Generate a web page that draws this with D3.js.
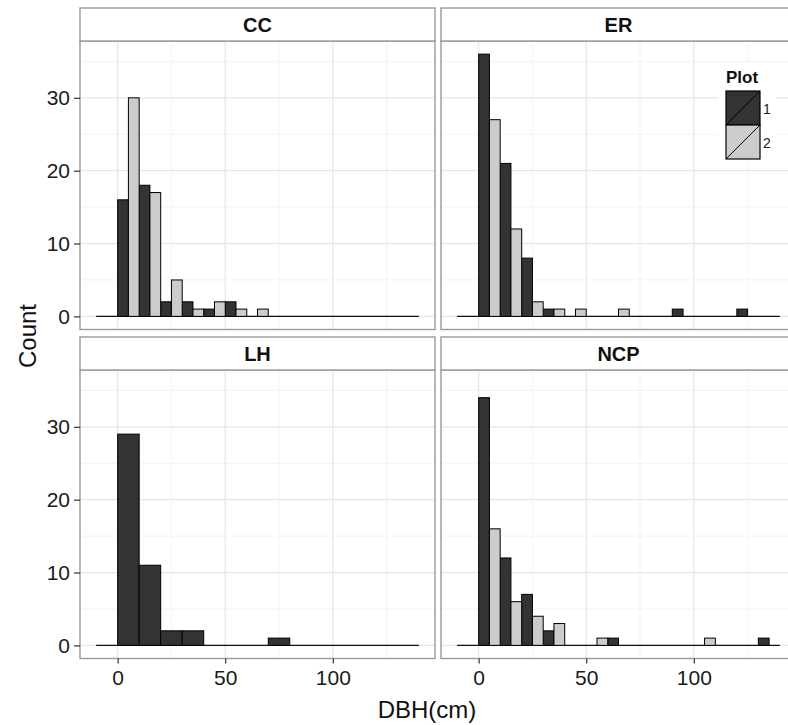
<!DOCTYPE html>
<html>
<head>
<meta charset="utf-8">
<script src="https://cdn.jsdelivr.net/npm/d3@7/dist/d3.min.js"></script>
<style>
  html, body { margin: 0; padding: 0; background: #fff; }
  svg { display: block; font-family: "Liberation Sans", Arial, sans-serif; }
</style>
</head>
<body>
<svg id="chart" width="788" height="725"></svg>
<script>
// ---- data ----
const facets = ["CC", "ER", "LH", "NCP"];
const binStarts = [-10, 0, 10, 20, 30, 40, 50, 60, 70, 80, 90, 100, 110, 120, 130];
const binWidth = 10;
const plots = ["1", "2"];
// counts per bin (aligned with binStarts), by facet and plot
const ccPlot1  = [0, 16, 18, 2, 2, 1, 2, 0, 0, 0, 0, 0, 0, 0, 0];
const ccPlot2  = [0, 30, 17, 5, 1, 2, 1, 1, 0, 0, 0, 0, 0, 0, 0];
const erPlot1  = [0, 36, 21, 8, 1, 0, 0, 0, 0, 0, 1, 0, 0, 1, 0];
const erPlot2  = [0, 27, 12, 2, 1, 1, 0, 1, 0, 0, 0, 0, 0, 0, 0];
const lhPlot1  = [0, 29, 11, 2, 2, 0, 0, 0, 1, 0, 0, 0, 0, 0, 0];
const lhPlot2  = null; // no plot 2 in LH
const ncpPlot1 = [0, 34, 12, 7, 2, 0, 0, 1, 0, 0, 0, 0, 0, 0, 1];
const ncpPlot2 = [0, 16, 6, 4, 3, 0, 1, 0, 0, 0, 0, 1, 0, 0, 0];
const xTicks = [0, 50, 100];
const xMinor = [25, 75, 125];
const yTicks = [0, 10, 20, 30];
const yMinor = [5, 15, 25, 35];
const xTitle = "DBH(cm)";
const yTitle = "Count";
const legendTitle = "Plot";

const seriesByFacet = {
  CC: [ccPlot1, ccPlot2],
  ER: [erPlot1, erPlot2],
  LH: [lhPlot1, lhPlot2],
  NCP: [ncpPlot1, ncpPlot2]
};
const fills = { "1": "#333333", "2": "#cccccc" };

// ---- layout ----
const svg = d3.select("#chart");
const colX = [80, 441];
const panelW = 355;
const rowStripTop = [8, 337];
const stripH = 33;
const panelH = 288.5;

const xMax = binStarts[binStarts.length - 1] + binWidth;
const xMin = binStarts[0];
const xPad = (xMax - xMin) * 0.05;
const yMaxData = d3.max(Object.values(seriesByFacet).flat().filter(Boolean).flat());
const yPad = yMaxData * 0.05;

facets.forEach((f, i) => {
  const col = i % 2, row = Math.floor(i / 2);
  const px = colX[col];
  const sy = rowStripTop[row];
  const py = sy + stripH;
  const x = d3.scaleLinear().domain([xMin - xPad, xMax + xPad]).range([px, px + panelW]);
  const y = d3.scaleLinear().domain([-yPad, yMaxData + yPad]).range([py + panelH, py]);

  const g = svg.append("g");
  g.append("rect").attr("x", px).attr("y", py).attr("width", panelW).attr("height", panelH).attr("fill", "#fff");
  // minor grid
  g.selectAll(".gxm").data(xMinor).enter().append("line")
    .attr("x1", d => x(d)).attr("x2", d => x(d)).attr("y1", py).attr("y2", py + panelH)
    .attr("stroke", "#f3f3f3").attr("stroke-width", 1);
  g.selectAll(".gym").data(yMinor).enter().append("line")
    .attr("y1", d => y(d)).attr("y2", d => y(d)).attr("x1", px).attr("x2", px + panelW)
    .attr("stroke", "#f3f3f3").attr("stroke-width", 1);
  // major grid
  g.selectAll(".gx").data(xTicks).enter().append("line")
    .attr("x1", d => x(d)).attr("x2", d => x(d)).attr("y1", py).attr("y2", py + panelH)
    .attr("stroke", "#e6e6e6").attr("stroke-width", 1.2);
  g.selectAll(".gy").data(yTicks).enter().append("line")
    .attr("y1", d => y(d)).attr("y2", d => y(d)).attr("x1", px).attr("x2", px + panelW)
    .attr("stroke", "#e6e6e6").attr("stroke-width", 1.2);

  // baseline (zero-height bars)
  g.append("line").attr("x1", x(xMin)).attr("x2", x(xMax)).attr("y1", y(0)).attr("y2", y(0))
    .attr("stroke", "#111").attr("stroke-width", 1.3);

  // bars
  const series = seriesByFacet[f];
  const present = series.map((s, k) => s ? plots[k] : null).filter(Boolean);
  const nGroups = present.length;
  series.forEach((s, k) => {
    if (!s) return;
    const slot = present.indexOf(plots[k]);
    const w = binWidth / nGroups;
    const data = binStarts.map((b, j) => ({ x0: b + slot * w, x1: b + (slot + 1) * w, c: s[j] })).filter(d => d.c > 0);
    g.selectAll(".bar" + k).data(data).enter().append("rect")
      .attr("x", d => x(d.x0)).attr("width", d => x(d.x1) - x(d.x0))
      .attr("y", d => y(d.c)).attr("height", d => y(0) - y(d.c))
      .attr("fill", fills[plots[k]]).attr("stroke", "#000").attr("stroke-width", 1);
  });

  // panel border
  g.append("rect").attr("x", px).attr("y", py).attr("width", panelW).attr("height", panelH)
    .attr("fill", "none").attr("stroke", "#9a9a9a").attr("stroke-width", 1.4);
  // strip
  g.append("rect").attr("x", px).attr("y", sy).attr("width", panelW).attr("height", stripH)
    .attr("fill", "#fff").attr("stroke", "#9a9a9a").attr("stroke-width", 1.4);
  g.append("text").attr("x", px + panelW / 2).attr("y", sy + stripH / 2 + 7)
    .attr("text-anchor", "middle").attr("font-size", 20).attr("font-weight", "bold")
    .attr("fill", "#111").text(f);

  if (col === 0) {
    const ya = g.append("g").attr("transform", `translate(${px},0)`)
      .call(d3.axisLeft(y).tickValues(yTicks).tickSize(6).tickPadding(4));
    ya.select(".domain").remove();
    ya.selectAll(".tick line").attr("stroke", "#333").attr("stroke-width", 1.2);
    ya.selectAll(".tick text").attr("font-size", 21).attr("fill", "#1a1a1a")
      .attr("font-family", "Liberation Sans, Arial, sans-serif");
  }
  if (row === 1) {
    const xa = g.append("g").attr("transform", `translate(0,${py + panelH})`)
      .call(d3.axisBottom(x).tickValues(xTicks).tickSize(5).tickPadding(7));
    xa.select(".domain").remove();
    xa.selectAll(".tick line").attr("stroke", "#333").attr("stroke-width", 1.2);
    xa.selectAll(".tick text").attr("font-size", 21).attr("fill", "#1a1a1a")
      .attr("font-family", "Liberation Sans, Arial, sans-serif");
  }

  // legend in ER panel
  if (f === "ER") {
    const lx = 726, ly = 91, kw = 34, kh = 34;
    const lg = svg.append("g");
    lg.append("rect").attr("x", 718).attr("y", 63).attr("width", 58).attr("height", 102).attr("fill", "#fff");
    lg.append("text").attr("x", 726).attr("y", 83).attr("font-size", 17).attr("font-weight", "bold")
      .attr("fill", "#111").text(legendTitle);
    plots.forEach((p, k) => {
      const ky = ly + k * kh;
      lg.append("rect").attr("x", lx).attr("y", ky).attr("width", kw).attr("height", kh)
        .attr("fill", fills[p]).attr("stroke", "#000").attr("stroke-width", 1.2);
      lg.append("line").attr("x1", lx).attr("y1", ky + kh).attr("x2", lx + kw).attr("y2", ky)
        .attr("stroke", "#000").attr("stroke-width", 1);
      lg.append("text").attr("x", lx + kw + 3).attr("y", ky + kh / 2 + 6)
        .attr("font-size", 14).attr("fill", "#222").text(p);
    });
  }
});

// axis titles
svg.append("text").attr("x", 427).attr("y", 718).attr("text-anchor", "middle")
  .attr("font-size", 24).attr("fill", "#111").text(xTitle);
svg.append("text").attr("transform", "translate(36,336) rotate(-90)").attr("text-anchor", "middle")
  .attr("font-size", 24).attr("fill", "#111").text(yTitle);
</script>
</body>
</html>
